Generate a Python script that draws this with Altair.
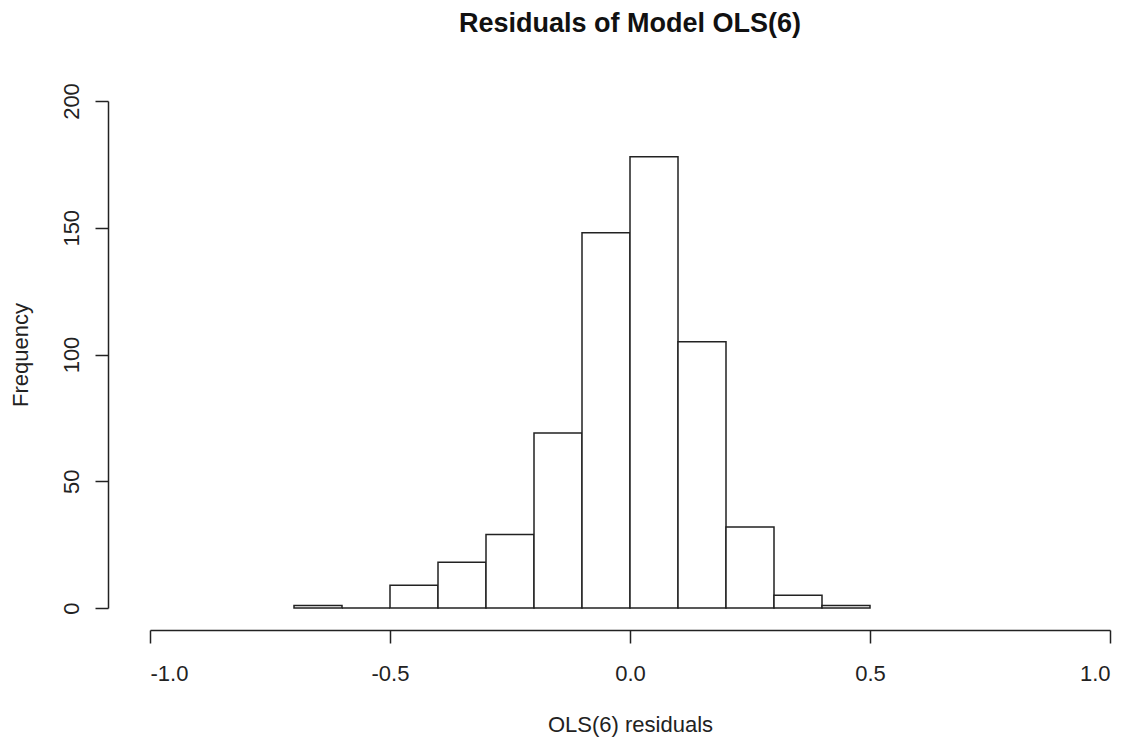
import altair as alt
import pandas as pd

# Histogram of OLS(6) residuals (bin edges and frequencies)
bin_edges = [-0.7, -0.6, -0.5, -0.4, -0.3, -0.2, -0.1, 0.0, 0.1, 0.2, 0.3, 0.4, 0.5]
counts = [1, 0, 9, 18, 29, 69, 148, 178, 105, 32, 5, 1]

x_ticks = [-1.0, -0.5, 0.0, 0.5, 1.0]
y_ticks = [0, 50, 100, 150, 200]

df = pd.DataFrame({
    "left": bin_edges[:-1],
    "right": bin_edges[1:],
    "count": counts,
    "zero": [0] * len(counts),
})

FONT = "Liberation Sans"
INK = "#222222"

bars = alt.Chart(df).mark_rect(
    fill="white", stroke=INK, strokeWidth=1.5
).encode(
    x=alt.X(
        "left:Q",
        scale=alt.Scale(domain=[-1, 1], nice=False, zero=False),
        axis=alt.Axis(
            values=x_ticks,
            labelExpr="(datum.value < 0 ? '-' : '') + format(abs(datum.value), '.1f')",
            title="OLS(6) residuals",
            offset=22,
            tickSize=13,
            labelPadding=20,
            titlePadding=30,
            grid=False,
        ),
    ),
    x2="right:Q",
    y=alt.Y(
        "count:Q",
        scale=alt.Scale(domain=[0, 200], nice=False),
        axis=alt.Axis(
            values=y_ticks,
            title="Frequency",
            offset=42,
            tickSize=13,
            labelAngle=-90,
            labelAlign="center",
            labelBaseline="bottom",
            labelPadding=12,
            titlePadding=28,
            grid=False,
        ),
    ),
    y2="zero:Q",
)

chart = bars.properties(
    width=960,
    height=507,
    autosize=alt.AutoSizeParams(type="none"),
    padding={"left": 142, "top": 93, "right": 12, "bottom": 130},
    title=alt.TitleParams(
        "Residuals of Model OLS(6)",
        font=FONT,
        fontSize=27,
        fontWeight="bold",
        color="#111111",
        anchor="middle",
        offset=45,
    ),
    background="white",
).configure_view(
    stroke=None
).configure_axis(
    domainColor=INK,
    domainWidth=1.5,
    tickColor=INK,
    tickWidth=1.5,
    labelFont=FONT,
    labelFontSize=22,
    labelColor=INK,
    titleFont=FONT,
    titleFontSize=22,
    titleFontWeight="normal",
    titleColor=INK,
)

chart.save("out.html", embed_options={"renderer": "svg", "actions": False})
